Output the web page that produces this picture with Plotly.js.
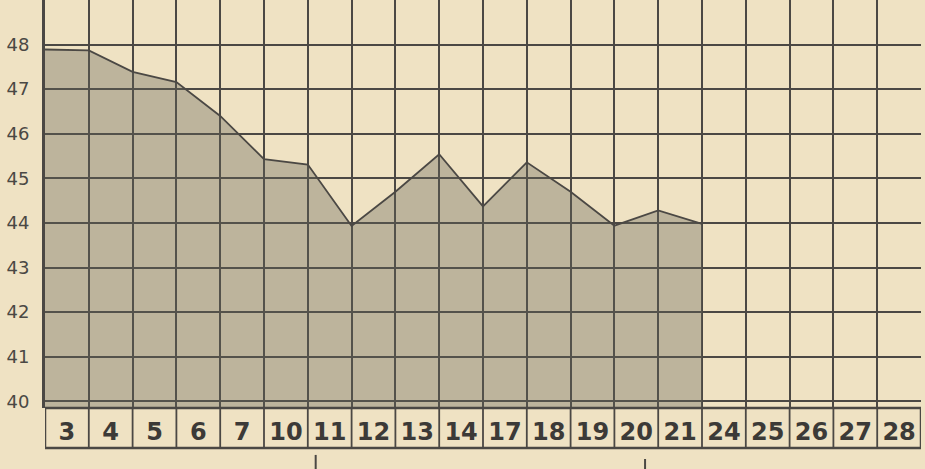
<!DOCTYPE html>
<html>
<head>
<meta charset="utf-8">
<script src="https://cdn.plot.ly/plotly-3.0.1.min.js"></script>
<style>
  html, body { margin: 0; padding: 0; background: #efe2c3; }
  #chart { width: 925px; height: 469px; }
</style>
</head>
<body>
<div id="chart"></div>
<script>
// Day labels (one column each)
const dayLabels = ["3","4","5","6","7","10","11","12","13","14","17","18","19","20","21","24","25","26","27","28"];
// Values at the column boundaries (start of first day, then close of each day)
const pointIndex = [0,1,2,3,4,5,6,7,8,9,10,11,12,13,14,15];
const values = [47.89,47.87,47.39,47.16,46.40,45.43,45.31,43.93,44.70,45.54,44.37,45.36,44.70,43.94,44.28,43.98];
// Y tick labels
const yTicks = [40,41,42,43,44,45,46,47,48,49];
const yTickText = ["40","41","42","43","44","45","46","47","48","49"];

const ink = "#4b4844";
const nCols = dayLabels.length;
const boundaries = [];
for (let i = 0; i <= nCols; i++) boundaries.push(i);
const centers = dayLabels.map((_, i) => i + 0.5);

const boxBottom = -0.098;
const shapes = [];
// label row box
shapes.push({type: "line", xref: "paper", yref: "paper", x0: 0, x1: 1, y0: boxBottom, y1: boxBottom,
  line: {color: ink, width: 2.5}});
shapes.push({type: "line", xref: "paper", yref: "paper", x0: 0, x1: 1, y0: 0, y1: 0,
  line: {color: ink, width: 2.5}});
boundaries.forEach(b => {
  shapes.push({type: "line", xref: "x", yref: "paper", x0: b, x1: b, y0: boxBottom, y1: 0,
    line: {color: ink, width: (b === 0 || b === nCols) ? 2.5 : 1.8}});
});
// bracket lines under the label row
shapes.push({type: "line", xref: "paper", yref: "paper", x0: 0.309, x1: 0.309, y0: -0.115, y1: -0.16,
  line: {color: ink, width: 2}});
shapes.push({type: "line", xref: "paper", yref: "paper", x0: 0.685, x1: 0.685, y0: -0.125, y1: -0.16,
  line: {color: ink, width: 2}});

const trace = {
  x: pointIndex, y: values,
  type: "scatter", mode: "lines",
  fill: "tozeroy",
  fillcolor: "rgba(100,100,88,0.36)",
  line: {color: ink, width: 1.8},
  hoverinfo: "skip",
  xaxis: "x", yaxis: "y"
};
const labelTrace = {
  x: centers, y: centers.map(() => null),
  type: "scatter", mode: "lines", showlegend: false, hoverinfo: "skip",
  xaxis: "x2", yaxis: "y"
};

const layout = {
  width: 925, height: 469,
  margin: {l: 45, r: 4, t: 0, b: 61},
  paper_bgcolor: "#efe2c3",
  plot_bgcolor: "#efe2c3",
  showlegend: false,
  xaxis: {
    range: [0, nCols], tickvals: boundaries, showticklabels: false,
    showgrid: true, gridcolor: ink, gridwidth: 2, zeroline: false,
    showline: false, ticks: ""
  },
  xaxis2: {
    overlaying: "x", side: "bottom", anchor: "y",
    range: [0, nCols], tickvals: centers, ticktext: dayLabels,
    showgrid: false, zeroline: false, showline: false, ticks: "",
    ticklabelstandoff: 7,
    tickfont: {family: "DejaVu Sans", size: 24, color: "#3c3a37", weight: "bold"}
  },
  yaxis: {
    range: [39.85, 49.0], tickvals: yTicks, ticktext: yTickText,
    showgrid: true, gridcolor: ink, gridwidth: 2, zeroline: false,
    showline: true, linecolor: ink, linewidth: 3, ticks: "",
    ticklabelstandoff: 9,
    tickfont: {family: "DejaVu Sans", size: 18, color: "#4a4844"}
  },
  shapes: shapes
};

Plotly.newPlot("chart", [trace, labelTrace], layout, {displayModeBar: false, staticPlot: true});
</script>
</body>
</html>
